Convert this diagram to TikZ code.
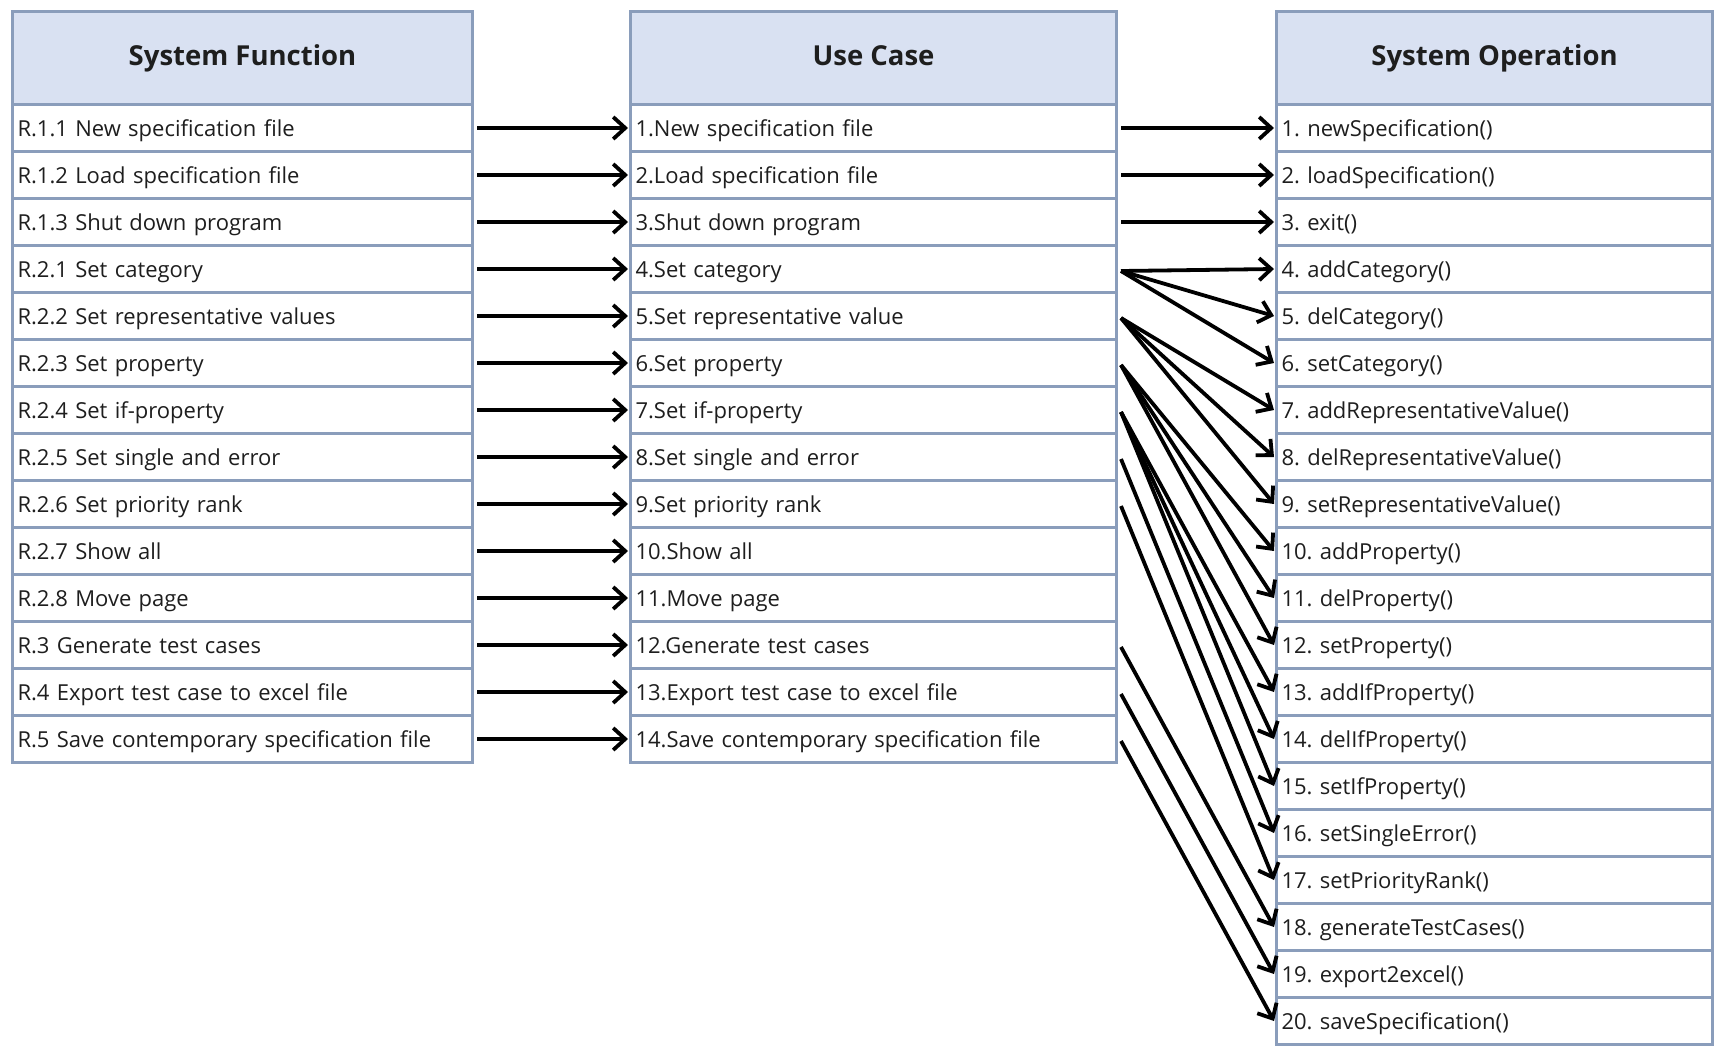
\documentclass[tikz,border=0pt]{standalone}
\usepackage{fontspec}
\setmainfont{Open Sans}
\usetikzlibrary{arrows.meta}
\definecolor{bordc}{HTML}{8A9DBB}
\definecolor{headc}{HTML}{D9E1F2}
\definecolor{txtc}{HTML}{1E1E1E}
\frenchspacing
\begin{document}
\begin{tikzpicture}[x=1pt,y=-1pt,
  cellbox/.style={draw=bordc, line width=3pt, fill=white, minimum height=47pt,
    anchor=north west, inner xsep=5pt, inner ysep=0pt,
    text height=20pt, text depth=3pt,
    font=\fontsize{22}{26}\selectfont, text=txtc, align=left},
  headbox/.style={draw=bordc, line width=3pt, fill=headc, minimum height=93pt,
    anchor=north west, inner sep=0pt, text height=21pt, text depth=7pt,
    font=\fontsize{27.5}{31}\selectfont\bfseries, text=txtc},
  arr/.style={draw=black, line width=3.8pt, -{Straight Barb[length=12pt,width=22pt]}}
]
\useasboundingbox (0,0) rectangle (1714,1045);

% headers
\node[headbox, minimum width=460pt] (hsf) at (11,10) {System Function};
\node[headbox, minimum width=486pt] (huc) at (629,10) {Use Case};
\node[headbox, minimum width=436pt] (hop) at (1275,10) {System Operation};

% system functions
\foreach \t [count=\i] in {
  {R.1.1 New specification file}, {R.1.2 Load specification file},
  {R.1.3 Shut down program}, {R.2.1 Set category},
  {R.2.2 Set representative values}, {R.2.3 Set property},
  {R.2.4 Set if-property}, {R.2.5 Set single and error},
  {R.2.6 Set priority rank}, {R.2.7 Show all}, {R.2.8 Move page},
  {R.3 Generate test cases}, {R.4 Export test case to excel file},
  {R.5 Save contemporary specification file}}
  \node[cellbox, text width=450pt] (sf\i) at (11,{103+(\i-1)*47}) {\t};

% use cases
\foreach \t [count=\i] in {
  {1.New specification file}, {2.Load specification file},
  {3.Shut down program}, {4.Set category},
  {5.Set representative value}, {6.Set property},
  {7.Set if-property}, {8.Set single and error},
  {9.Set priority rank}, {10.Show all}, {11.Move page},
  {12.Generate test cases}, {13.Export test case to excel file},
  {14.Save contemporary specification file}}
  \node[cellbox, text width=476pt] (uc\i) at (629,{103+(\i-1)*47}) {\t};

% system operations
\foreach \t [count=\i] in {
  {1. newSpecification()}, {2. loadSpecification()}, {3. exit()},
  {4. addCategory()}, {5. delCategory()}, {6. setCategory()},
  {7. addRepresentativeValue()}, {8. delRepresentativeValue()},
  {9. setRepresentativeValue()}, {10. addProperty()}, {11. delProperty()},
  {12. setProperty()}, {13. addIfProperty()}, {14. delIfProperty()},
  {15. setIfProperty()}, {16. setSingleError()}, {17. setPriorityRank()},
  {18. generateTestCases()}, {19. export2excel()}, {20. saveSpecification()}}
  \node[cellbox, text width=426pt] (op\i) at (1275,{103+(\i-1)*47}) {\t};

% system function -> use case
\foreach \i in {1,...,14}
  \draw[arr] ([xshift=3pt]sf\i.east) -- ([xshift=-1pt]uc\i.west);

% use case -> system operation
\foreach \a/\b in {1/1,2/2,3/3}
  \draw[arr] ([xshift=3pt]uc\a.east) -- ([xshift=-1pt]op\b.west);
\foreach \a/\b in {4/4,4/5,4/6,5/7,5/8,5/9,6/10,6/11,6/12,
                   7/13,7/14,7/15,8/16,9/17,12/18,13/19,14/20}
  \draw[arr] ([xshift=3pt,yshift=-2pt]uc\a.east) -- ([xshift=-1pt]op\b.west);
\end{tikzpicture}
\end{document}
